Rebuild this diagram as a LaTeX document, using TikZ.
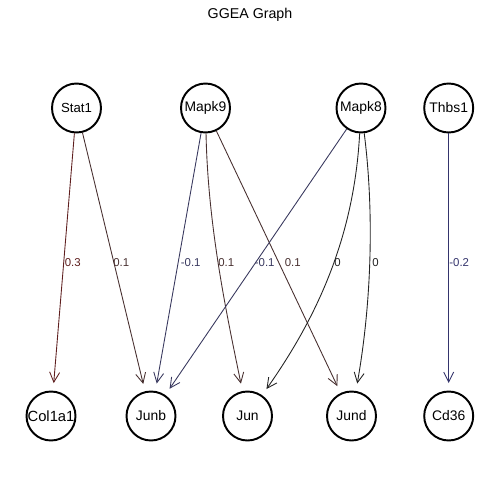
\documentclass[tikz,border=0pt]{standalone}
\usepackage{fontspec}
\setmainfont{Liberation Sans}
\usetikzlibrary{arrows.meta}
% edge colours by score
\definecolor{scorePosHigh}{HTML}{5E1E1E}
\definecolor{scorePosLow}{HTML}{483030}
\definecolor{scoreNegLow}{HTML}{38385E}
\definecolor{scoreNegHigh}{HTML}{34346C}
\definecolor{scoreZero}{HTML}{222222}
\begin{document}
\begin{tikzpicture}[x=0.02cm,y=-0.02cm,
  gene/.style={circle,draw,line width=1.1pt,minimum size=0.98cm,inner sep=0pt,
    font=\fontsize{7.9}{9}\selectfont},
  rel/.style={line width=0.5pt,-{Straight Barb[length=0.2cm,width=0.2cm]},shorten >=0.15cm},
  wt/.style={anchor=west,inner sep=0pt,font=\fontsize{6.5}{7}\selectfont}]
\useasboundingbox (0,0) rectangle (500,500);

\node[font=\fontsize{8.1}{9}\selectfont] (title) at (250,15) {GGEA Graph};

% regulators
\node[gene,font=\fontsize{7.5}{9}\selectfont] (stat1) at (76.5,108) {Stat1};
\node[gene] (mapk9) at (205.5,108) {Mapk9};
\node[gene] (mapk8) at (361,108) {Mapk8};
\node[gene] (thbs1) at (448.7,108) {Thbs1};

% targets
\node[gene,font=\fontsize{8.4}{9}\selectfont] (col1a1) at (51,416) {Col1a1};
\node[gene] (junb) at (151,416) {Junb};
\node[gene] (jun) at (247.5,416) {Jun};
\node[gene] (jund) at (351.5,416) {Jund};
\node[gene] (cd36) at (448.7,416) {Cd36};

% relations
\draw[rel,scorePosHigh] (stat1) -- (col1a1);
\draw[rel,scorePosLow] (stat1) -- (junb);
\draw[rel,scoreNegLow] (mapk9) -- (junb);
\draw[rel,scorePosLow] (mapk9) .. controls (208,230) and (228,320) .. (jun);
\draw[rel,scorePosLow] (mapk9) -- (jund);
\draw[rel,scoreNegLow] (mapk8) -- (junb);
\draw[rel,scoreZero] (mapk8) .. controls (354,240) and (315,320) .. (jun);
\draw[rel,scoreZero] (mapk8) .. controls (374,210) and (372,300) .. (jund);
\draw[rel,scoreNegHigh] (thbs1) -- (cd36);

% scores
\node[wt,text=scorePosHigh] (w1) at (64.5,263) {0.3};
\node[wt,text=scorePosLow] (w2) at (113,263) {0.1};
\node[wt,text=scoreNegLow] (w3) at (180.5,263) {-0.1};
\node[wt,text=scorePosLow] (w4) at (218,263) {0.1};
\node[wt,text=scoreNegLow] (w5) at (254.5,263) {-0.1};
\node[wt,text=scorePosLow] (w6) at (284.5,263) {0.1};
\node[wt,text=scoreZero] (w7) at (334,263) {0};
\node[wt,text=scoreZero] (w8) at (372,263) {0};
\node[wt,text=scoreNegHigh] (w9) at (449,263) {-0.2};
\end{tikzpicture}
\end{document}
